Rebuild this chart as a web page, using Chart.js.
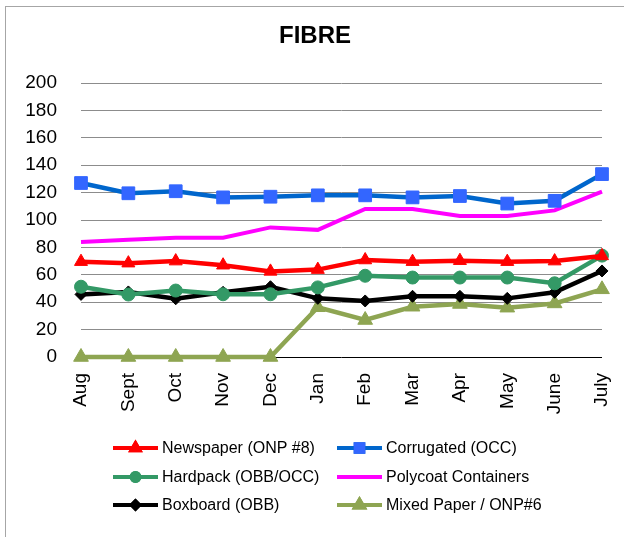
<!DOCTYPE html>
<html>
<head>
<meta charset="utf-8">
<script src="https://cdn.jsdelivr.net/npm/chart.js@4/dist/chart.umd.min.js"></script>
<style>
  html, body { margin: 0; padding: 0; background: #fff; }
  #wrap { position: relative; width: 624px; height: 537px; overflow: hidden; }
  #frame { position: absolute; left: 5px; top: 6px; width: 700px; height: 600px;
           border: 1px solid #a6a6a6; box-sizing: border-box; pointer-events: none; }
  canvas { position: absolute; left: 0; top: 0; }
</style>
</head>
<body>
<div id="wrap">
  <div id="frame"></div>
  <canvas id="c" width="624" height="537"></canvas>
</div>
<script>
"use strict";

const TITLE = "FIBRE";
const MONTHS = ["Aug", "Sept", "Oct", "Nov", "Dec", "Jan", "Feb", "Mar", "Apr", "May", "June", "July"];
const NEWSPAPER = [69.6, 68.5, 70, 67, 62.5, 63.8, 70.8, 69.6, 70.3, 69.6, 70, 73.8];
const CORRUGATED = [127, 119.5, 121, 116.5, 117, 118, 118, 116.5, 117.5, 112, 114, 133.5];
const HARDPACK = [51.3, 45.6, 48.5, 45.8, 45.8, 50.8, 59.3, 58, 58, 58, 53.8, 74];
const POLYCOAT = [84, 85.5, 87, 87, 94.6, 92.8, 108, 108, 103, 103, 107, 120.7];
const BOXBOARD = [45.7, 47.5, 42.5, 47.2, 51.3, 42.8, 40.9, 44.3, 44.3, 42.8, 47.2, 62.8];
const MIXED = [0, 0, 0, 0, 0, 36.3, 27, 36.7, 38.7, 36, 39.1, 49.4];
const Y_MIN = 0, Y_MAX = 200, Y_STEP = 20;

const FONT = "'Liberation Sans', Arial, sans-serif";

const line = (label, data, color, point, radius, pointColor) => ({
  label, data, borderColor: color, backgroundColor: pointColor || color,
  pointBackgroundColor: pointColor || color, pointBorderColor: pointColor || color,
  borderWidth: 4.5, pointStyle: point, pointRadius: radius, pointBorderWidth: 1,
  pointHoverRadius: radius, tension: 0, clip: false,
});

const DATASETS = [
  line("Newspaper (ONP #8)", NEWSPAPER, "#ff0000", "triangle", 7.5),
  line("Corrugated (OCC)", CORRUGATED, "#0066cc", "rect", 9, "#3366ff"),
  line("Hardpack (OBB/OCC)", HARDPACK, "#339966", "circle", 6.5),
  line("Polycoat Containers", POLYCOAT, "#ff00ff", false, 0),
  line("Boxboard (OBB)", BOXBOARD, "#000000", "rectRot", 6),
  line("Mixed Paper / ONP#6", MIXED, "#8ea552", "triangle", 8.5),
];
DATASETS[3].borderWidth = 4;

// 标题 + 两列三行图例（线段 + 小号标记）
const legendPlugin = {
  id: "gridLegend",
  afterDraw(chart) {
    const ctx = chart.ctx;
    ctx.save();
    ctx.fillStyle = "#000";
    ctx.font = "bold 24px " + FONT;
    ctx.textAlign = "center";
    ctx.textBaseline = "middle";
    ctx.fillText(TITLE, 315, 36);

    const cols = [113, 337], rows = [448, 477, 505], len = 45;
    ctx.font = "16px " + FONT;
    ctx.textAlign = "left";
    chart.data.datasets.forEach((ds, i) => {
      const x = cols[i % 2], y = rows[Math.floor(i / 2)];
      ctx.strokeStyle = ds.borderColor;
      ctx.lineWidth = 4;
      ctx.beginPath(); ctx.moveTo(x, y); ctx.lineTo(x + len, y); ctx.stroke();
      if (ds.pointStyle) {
        Chart.helpers.drawPoint(ctx, {
          pointStyle: ds.pointStyle, rotation: 0, borderWidth: 1,
          radius: Math.max(3, ds.pointRadius * 0.6),
        }, x + len / 2, y);
        ctx.fillStyle = ds.pointBackgroundColor;
        ctx.strokeStyle = ds.pointBorderColor;
        ctx.fill(); ctx.stroke();
      }
      ctx.fillStyle = "#000";
      ctx.fillText(ds.label, x + len + 4, y + 1);
    });
    ctx.restore();
  },
};

new Chart(document.getElementById("c"), {
  type: "line",
  data: { labels: MONTHS, datasets: DATASETS },
  plugins: [legendPlugin],
  options: {
    responsive: false, animation: false, devicePixelRatio: 1,
    layout: { padding: { left: 0, right: 22, top: 83, bottom: 0 } },
    plugins: {
      legend: { display: false },
      tooltip: { enabled: false },
      title: { display: false },
    },
    scales: {
      x: {
        offset: false,
        grid: { display: false },
        border: { display: false },
        ticks: { color: "#000", font: { family: FONT, size: 19 }, minRotation: 90, maxRotation: 90,
                 padding: 8, autoSkip: false },
        afterFit: (s) => { s.height = 180; s.paddingRight = 0; s.paddingLeft = 0; },
      },
      y: {
        min: Y_MIN, max: Y_MAX,
        border: { display: false },
        grid: { color: (c) => (c.tick.value === 0 ? "#000" : "#8c8c8c"), lineWidth: 1, drawTicks: false },
        ticks: { stepSize: Y_STEP, color: "#000", font: { family: FONT, size: 19 }, padding: 24 },
        afterFit: (s) => { s.width = 81; },
      },
    },
  },
});
</script>
</body>
</html>
